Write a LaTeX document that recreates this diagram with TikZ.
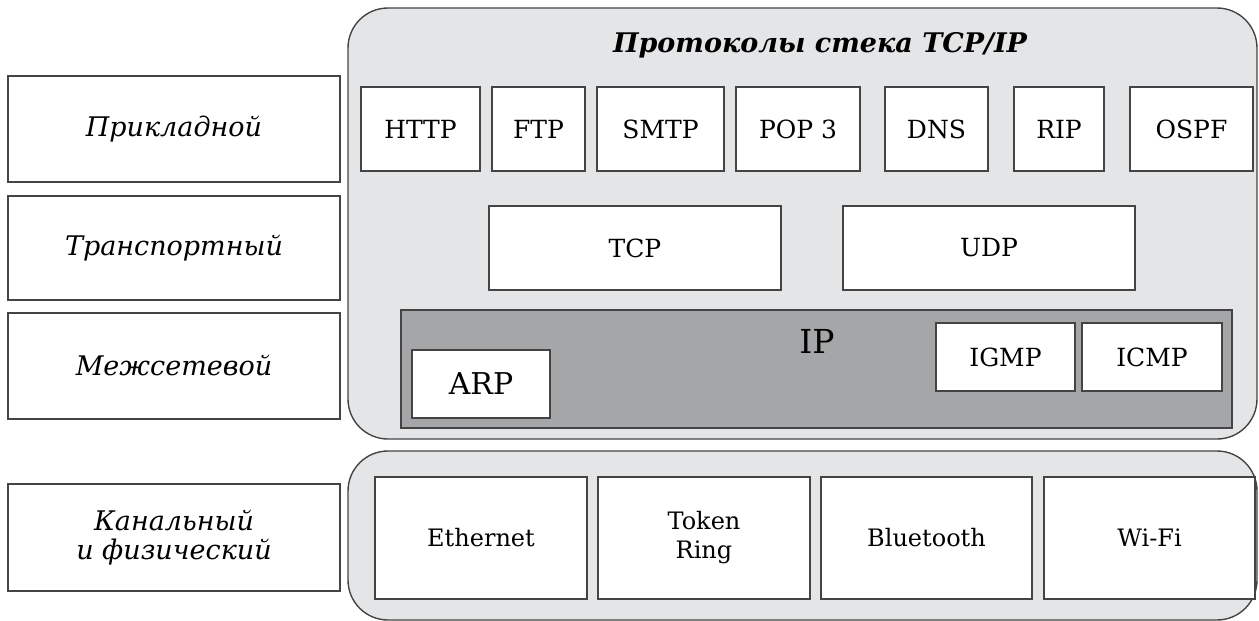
\documentclass[tikz,border=0pt]{standalone}
\usepackage{fontspec}
\setmainfont{DejaVu Serif}
\definecolor{lightbg}{HTML}{E4E5E7}
\definecolor{ipbg}{HTML}{A5A6A8}
\definecolor{edge}{HTML}{444444}
\tikzset{
  pbox/.style={draw=edge, line width=1.4pt, fill=white, inner sep=0pt, outer sep=0pt,
    font=\fontsize{25}{29}\selectfont, align=center},
  linkbox/.style={pbox, font=\fontsize{24}{29}\selectfont},
  layerbox/.style={draw=edge, line width=1.4pt, fill=white, inner sep=0pt, outer sep=0pt,
    minimum width=332pt, font=\fontsize{27}{29}\selectfont\itshape, align=center},
  container/.style={draw=edge, line width=1.4pt, fill=lightbg, rounded corners=40pt,
    inner sep=0pt, outer sep=0pt},
}
\begin{document}
\begin{tikzpicture}[x=1pt,y=-1pt]
\useasboundingbox (0,0) rectangle (1259,621);
% layer labels
\node[layerbox, minimum height=106pt] (prik) at (174,129) {Прикладной};
\node[layerbox, minimum height=104pt] (trans) at (174,248) {Транспортный};
\node[layerbox, minimum height=106pt] (mezh) at (174,366) {Межсетевой};
\node[layerbox, minimum height=107pt] (kan) at (174,537.5) {Канальный\\и физический};
% containers
\node[container, minimum width=909pt, minimum height=431pt] (top) at (802.5,223.5) {};
\node[container, minimum width=909pt, minimum height=169pt] (bot) at (802.5,535.5) {};
\node[font=\fontsize{27}{30}\selectfont\bfseries\itshape] (title) at (820,45) {Протоколы стека TCP/IP};
% application
\node[pbox, minimum width=119pt, minimum height=84pt] (http) at (420.5,129) {HTTP};
\node[pbox, minimum width=93pt, minimum height=84pt] (ftp) at (538.5,129) {FTP};
\node[pbox, minimum width=127pt, minimum height=84pt] (smtp) at (660.5,129) {SMTP};
\node[pbox, minimum width=124pt, minimum height=84pt] (pop) at (798,129) {POP 3};
\node[pbox, minimum width=103pt, minimum height=84pt] (dns) at (936.5,129) {DNS};
\node[pbox, minimum width=90pt, minimum height=84pt] (rip) at (1059,129) {RIP};
\node[pbox, minimum width=123pt, minimum height=84pt] (ospf) at (1191.5,129) {OSPF};
% transport
\node[pbox, minimum width=292pt, minimum height=84pt] (tcp) at (635,248) {TCP};
\node[pbox, minimum width=292pt, minimum height=84pt] (udp) at (989,248) {UDP};
% internet
\node[draw=edge, line width=1.4pt, fill=ipbg, minimum width=831pt, minimum height=118pt, inner sep=0pt, outer sep=0pt] (iprect) at (816.5,369) {};
\node[font=\fontsize{33}{36}\selectfont] (iplabel) at (817,341) {IP};
\node[pbox, minimum width=138pt, minimum height=68pt, font=\fontsize{30}{32}\selectfont] (arp) at (481,384) {ARP};
\node[pbox, minimum width=139pt, minimum height=68pt] (igmp) at (1005.5,357) {IGMP};
\node[pbox, minimum width=140pt, minimum height=68pt] (icmp) at (1152,357) {ICMP};
% link
\node[linkbox, minimum width=212pt, minimum height=122pt] (eth) at (481,538) {Ethernet};
\node[linkbox, minimum width=212pt, minimum height=122pt] (tok) at (704,538) {Token\\Ring};
\node[linkbox, minimum width=211pt, minimum height=122pt] (blue) at (926.5,538) {Bluetooth};
\node[linkbox, minimum width=211pt, minimum height=122pt] (wifi) at (1149.5,538) {Wi-Fi};
\end{tikzpicture}
\end{document}
